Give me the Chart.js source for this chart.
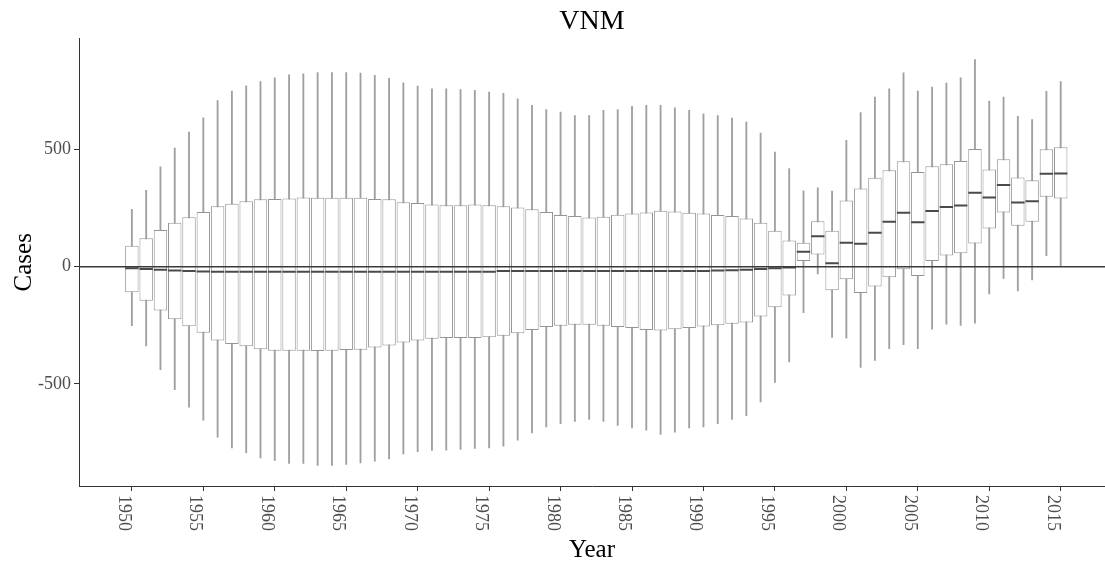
<!DOCTYPE html>
<html>
<head>
<meta charset="utf-8">
<title>VNM</title>
<script src="https://cdn.jsdelivr.net/npm/chart.js@4/dist/chart.umd.min.js"></script>
<style>
  body { margin: 0; background: #fff; }
  #wrap { width: 1105px; height: 563px; }
</style>
</head>
<body>
<div id="wrap"><canvas id="myChart"></canvas></div>
<script>
// years on the x axis
const years = [
  1950, 1951, 1952, 1953, 1954, 1955, 1956, 1957, 1958, 1959,
  1960, 1961, 1962, 1963, 1964, 1965, 1966, 1967, 1968, 1969,
  1970, 1971, 1972, 1973, 1974, 1975, 1976, 1977, 1978, 1979,
  1980, 1981, 1982, 1983, 1984, 1985, 1986, 1987, 1988, 1989,
  1990, 1991, 1992, 1993, 1994, 1995, 1996, 1997, 1998, 1999,
  2000, 2001, 2002, 2003, 2004, 2005, 2006, 2007, 2008, 2009,
  2010, 2011, 2012, 2013, 2014, 2015
];

// upper whisker end
const whiskerHi = [
  245, 326, 426, 506, 574, 635, 709, 749, 772, 790,
  806, 818, 823, 828, 828, 828, 826, 816, 804, 784,
  770, 759, 759, 756, 752, 745, 740, 716, 688, 670,
  660, 645, 645, 667, 670, 684, 688, 688, 678, 667,
  652, 645, 634, 617, 570, 489, 418, 323, 336, 322,
  539, 657, 723, 759, 827, 749, 766, 783, 806, 884,
  706, 723, 641, 628, 748, 790
];

// upper hinge (box top)
const q3 = [
  89, 121, 156, 187, 211, 233, 258, 268, 279, 287,
  289, 291, 295, 294, 294, 294, 294, 289, 287, 275,
  272, 265, 262, 262, 265, 262, 258, 252, 245, 233,
  220, 216, 210, 213, 221, 227, 231, 238, 235, 230,
  227, 220, 216, 205, 187, 153, 111, 102, 194, 153,
  282, 333, 379, 411, 450, 404, 428, 437, 451, 502,
  414, 458, 380, 369, 501, 509
];

const median = [
  -7, -10, -13, -16, -19, -21, -22, -22, -22, -22,
  -22, -22, -22, -22, -22, -22, -22, -22, -22, -22,
  -22, -22, -22, -22, -22, -22, -19, -19, -19, -19,
  -19, -19, -19, -19, -19, -19, -19, -19, -19, -19,
  -19, -17, -15, -13, -10, -7, -4, 64, 130, 14,
  102, 98, 145, 191, 230, 189, 237, 254, 261, 315,
  295, 348, 274, 279, 396, 397
];

// lower hinge (box bottom)
const q1 = [
  -109, -146, -187, -224, -254, -282, -315, -330, -340, -353,
  -359, -359, -359, -360, -359, -356, -355, -345, -336, -324,
  -315, -308, -305, -305, -305, -301, -295, -284, -270, -258,
  -252, -248, -248, -252, -258, -262, -270, -272, -267, -262,
  -255, -250, -244, -238, -213, -173, -123, 24, 52, -101,
  -54, -113, -85, -45, -11, -40, 24, 48, 57, 99,
  163, 231, 174, 191, 298, 291
];

// lower whisker end
const whiskerLo = [
  -252, -338, -440, -525, -600, -655, -728, -773, -794, -816,
  -827, -840, -840, -848, -848, -844, -837, -830, -820, -799,
  -789, -784, -783, -780, -776, -773, -766, -740, -709, -684,
  -670, -660, -652, -660, -678, -688, -698, -716, -706, -688,
  -684, -670, -652, -636, -577, -494, -407, -196, -31, -302,
  -305, -430, -400, -350, -333, -350, -267, -245, -251, -241,
  -116, -50, -104, -57, 47, 0
];

const xTicks = [1950, 1955, 1960, 1965, 1970, 1975, 1980, 1985, 1990, 1995, 2000, 2005, 2010, 2015];
const yTicks = [-500, 0, 500];

const xMin = 1946.3;
const xMax = 2018.1;
const serif = '"Liberation Serif", "Times New Roman", serif';

// x tick labels read top to bottom, so draw them by hand
const xLabels = {
  id: 'xLabels',
  afterDraw(chart) {
    const scale = chart.scales.x;
    const c = chart.ctx;
    c.save();
    c.font = '18px ' + serif;
    c.fillStyle = '#4d4d4d';
    c.textAlign = 'left';
    c.textBaseline = 'alphabetic';
    scale.ticks.forEach(function(t) {
      const px = scale.getPixelForValue(t.value);
      c.save();
      c.translate(px - 7, scale.top + 9);
      c.rotate(Math.PI / 2);
      c.fillText(String(t.value), 0, 6);
      c.restore();
    });
    c.restore();
  }
};

const ctx = document.getElementById('myChart').getContext('2d');
const chart = new Chart(ctx, {
  type: 'bar',
  data: {
    datasets: [
      {
        // whiskers
        data: years.map((yr, i) => ({ x: yr, y: [whiskerLo[i], whiskerHi[i]] })),
        backgroundColor: '#a0a0a0',
        barThickness: 1.2,
        grouped: false,
        order: 4,
      },
      {
        // boxes
        data: years.map((yr, i) => ({ x: yr, y: [q1[i], q3[i]] })),
        backgroundColor: '#ffffff',
        borderColor: '#959595',
        borderWidth: 1,
        borderSkipped: false,
        categoryPercentage: 1,
        barPercentage: 0.94,
        grouped: false,
        order: 3,
      },
      {
        // medians
        type: 'line',
        data: years.map((yr, i) => ({ x: yr, y: median[i] })),
        showLine: false,
        pointStyle: 'line',
        pointRadius: 6.7,
        pointBorderWidth: 2,
        pointBorderColor: '#4a4a4a',
        borderColor: '#4a4a4a',
        order: 2,
      },
      {
        // zero line
        type: 'line',
        data: [{ x: xMin, y: 0 }, { x: xMax, y: 0 }],
        borderColor: '#3a3a3a',
        borderWidth: 1.5,
        pointRadius: 0,
        order: 1,
      }
    ]
  },
  options: {
    responsive: true,
    maintainAspectRatio: false,
    animation: false,
    layout: { padding: 0, autoPadding: false },
    plugins: {
      legend: { display: false },
      tooltip: { enabled: false },
      title: {
        display: true,
        text: 'VNM',
        fullSize: false,
        color: '#000',
        font: { family: serif, size: 28, weight: 'normal' },
        padding: { top: 5, bottom: 0 },
      },
    },
    scales: {
      x: {
        type: 'linear',
        min: xMin,
        max: xMax,
        offset: false,
        afterBuildTicks: function(scale) {
          scale.ticks = xTicks.map(v => ({ value: v }));
        },
        afterFit: function(scale) {
          scale.height = 77;
        },
        grid: { display: true, drawOnChartArea: false, drawTicks: true, tickLength: 5, color: '#333', offset: false },
        border: { display: true, color: '#333', width: 1 },
        ticks: { display: false },
        title: {
          display: true,
          text: 'Year',
          color: '#000',
          font: { family: serif, size: 25, lineHeight: 1 },
          padding: { top: 0, bottom: 0 },
        },
      },
      y: {
        min: -936,
        max: 973,
        afterBuildTicks: function(scale) {
          scale.ticks = yTicks.map(v => ({ value: v }));
        },
        afterFit: function(scale) {
          scale.width = 79;
        },
        grid: { display: true, drawOnChartArea: false, drawTicks: true, tickLength: 5, color: '#333' },
        border: { display: true, color: '#333', width: 1 },
        ticks: {
          color: '#4d4d4d',
          padding: 3,
          font: { family: serif, size: 18 },
        },
        title: {
          display: true,
          text: 'Cases',
          color: '#000',
          font: { family: serif, size: 25, lineHeight: 1 },
          padding: { top: 12, bottom: 0 },
        },
      }
    }
  },
  plugins: [xLabels]
});
</script>
</body>
</html>
